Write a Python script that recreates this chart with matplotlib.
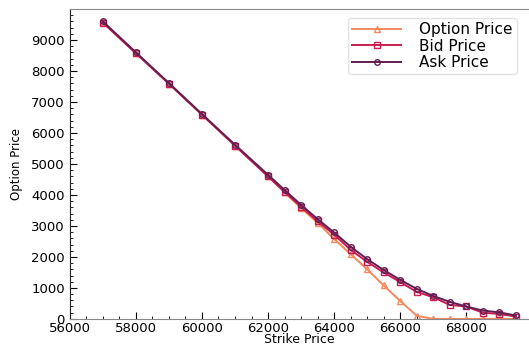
import matplotlib
matplotlib.use("Agg")
import matplotlib.pyplot as plt
from matplotlib.ticker import MultipleLocator, FixedLocator

strike = [57000, 58000, 59000, 60000, 61000, 62000, 62500, 63000, 63500, 64000,
          64500, 65000, 65500, 66000, 66500, 67000, 67500, 68000, 68500, 69000, 69500]
option_price = [9570, 8580, 7590, 6590, 5590, 4600, 4080, 3580, 3100, 2580,
                2090, 1600, 1080, 580, 100, 0, 0, 0, 0, 0, 0]
bid_price = [9560, 8570, 7590, 6590, 5590, 4600, 4100, 3620, 3150, 2720,
             2230, 1840, 1500, 1190, 870, 700, 450, 400, 200, 160, 75]
ask_price = [9600, 8600, 7610, 6610, 5620, 4650, 4160, 3680, 3220, 2790,
             2330, 1930, 1580, 1260, 970, 740, 550, 400, 270, 210, 110]
y_ticks = [0, 1000, 2000, 3000, 4000, 5000, 6000, 7000, 8000, 9000]

c_opt = "#f4895f"
c_bid = "#cb1b4f"
c_ask = "#611f53"

fig = plt.figure(figsize=(5.29, 3.47), dpi=100)
ax = fig.add_axes([0.132, 0.081, 0.868, 0.893])

ax.plot(strike, option_price, color=c_opt, lw=1.4, marker="^", ms=4,
        mfc="none", mew=1.0, label="Option Price")
ax.plot(strike, bid_price, color=c_bid, lw=1.4, marker="s", ms=4,
        mfc="none", mew=1.0, label="Bid Price")
ax.plot(strike, ask_price, color=c_ask, lw=1.4, marker="o", ms=4,
        mfc="none", mew=1.0, label="Ask Price")

ax.set_xlim(56000, 69900)
ax.set_ylim(0, 10000)
ax.xaxis.set_major_locator(MultipleLocator(2000))
ax.xaxis.set_minor_locator(MultipleLocator(500))
ax.yaxis.set_major_locator(FixedLocator(y_ticks))
ax.yaxis.set_minor_locator(MultipleLocator(200))
ax.tick_params(which="both", direction="in", top=False, right=False, labelsize=9.5)
ax.tick_params(axis="x", pad=2)
ax.tick_params(which="major", length=5)
ax.tick_params(which="minor", length=2.5)

for s in ["top", "bottom"]:
    ax.spines[s].set_color("#888888")
ax.spines["left"].set_color("#222222")
ax.spines["right"].set_visible(False)

ax.set_xlabel("Strike Price", fontsize=9, labelpad=-1)
ax.set_ylabel("Option Price", fontsize=8.5, labelpad=6)

leg = ax.legend(loc="upper right", fontsize=11, frameon=True, handlelength=3.2,
                borderpad=0.25, labelspacing=0.1, handletextpad=1.2,
                bbox_to_anchor=(0.99, 0.995))
leg.get_frame().set_edgecolor("#dddddd")

fig.savefig("out.png", dpi=100)
